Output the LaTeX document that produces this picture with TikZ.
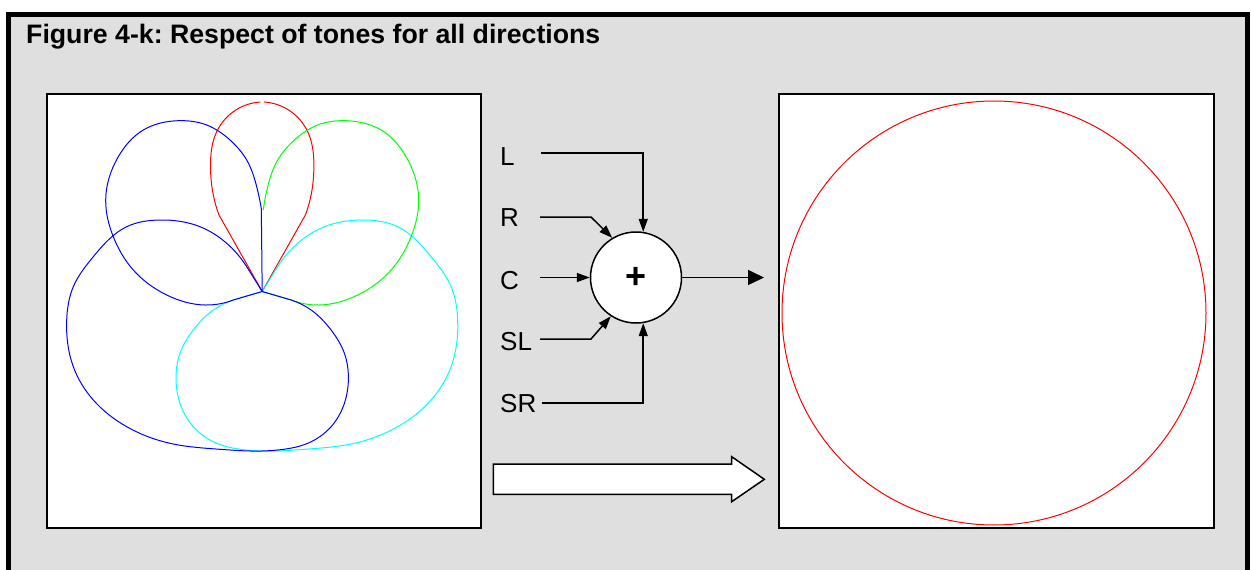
\documentclass[tikz,border=0pt]{standalone}
\usepackage{fontspec}
\setmainfont{Liberation Sans}
\usetikzlibrary{arrows.meta,hobby}
\definecolor{bg}{RGB}{223,223,223}
\definecolor{pblue}{RGB}{0,0,255}
\definecolor{pred}{RGB}{255,0,0}
\definecolor{pgreen}{RGB}{0,255,0}
\definecolor{pcyan}{RGB}{0,255,255}
\frenchspacing
\begin{document}
\begin{tikzpicture}[x=1pt,y=-1pt,
  panel/.style={draw=black, line width=1.5pt, fill=white, rectangle, inner sep=0pt, anchor=north west},
  curve/.style={line width=1pt, line join=round, use Hobby shortcut},
  conn/.style={line width=1.5pt, -{Triangle[length=13pt,width=9pt]}},
  bigconn/.style={line width=1.5pt, -{Triangle[length=16pt,width=15pt]}},
  lab/.style={anchor=base west, inner sep=0pt, font=\fontsize{26}{26}\selectfont},
]
\useasboundingbox (0,0) rectangle (1251,570);
\fill[bg] (8.5,14.5) rectangle (1247.5,570);
\draw[line width=5pt] (8.5,572) -- (8.5,14.5) -- (1247.5,14.5) -- (1247.5,572);

\node[anchor=base west, inner sep=0pt, font=\fontsize{26.7}{26.7}\selectfont\bfseries] (title) at (26,43) {Figure 4-k: Respect of tones for all directions};

% panels
\node[panel, minimum width=434pt, minimum height=434pt] (left) at (46,93) {};
\node[panel, minimum width=435pt, minimum height=434pt] (right) at (778,93) {};

% polar plots
\coordinate (O) at (262.2,291.5);
% C (red)
\draw[curve, pred] (264.2,102) .. (291.1,111.7) .. (307.7,131.7) .. (313.9,166.7) .. (311.1,195) .. (305.4,215) -- (O) -- (219,215) .. (213.3,195) .. (210.5,166.7) .. (216.7,131.7) .. (233.3,111.7) .. (260.4,102);
% SR (cyan)
\draw[curve, pcyan] (O) -- (277.7,266.7) .. (297.7,243.3) .. (324.4,226.7) .. (364.4,220) .. (397.7,226.7) .. (431.1,256.7) .. (451.1,286.7) .. (457.7,320) .. (451.1,366.7) .. (431.1,400) .. (397.7,426.7) .. (354.4,443.3) .. (304.4,449.3) .. (262.2,451) .. (246.7,450) .. (216.7,443.3) .. (193.3,426.7) .. (180,403.3) .. (176,378.3) .. (180,353.3) .. (193.3,330) .. (213.3,310) .. (233.3,300) -- (O);
% R (green)
\draw[curve, pgreen] (263.3,210) .. (267.7,186.7) .. (277.7,160) .. (294.4,140) .. (317.7,125) .. (346.1,120.7) .. (381.1,130) .. (406.1,156.7) .. (418.7,200) .. (411.1,236.7) .. (391.1,270) .. (357.7,295) .. (319.4,305) .. (291.1,300) -- (O);
% SL (blue)
\draw[curve, pblue] (O) -- (246.7,266.7) .. (226.7,243.3) .. (200,226.7) .. (160,220) .. (126.7,226.7) .. (93.3,256.7) .. (73.3,286.7) .. (66.7,320) .. (73.3,366.7) .. (93.3,400) .. (126.7,426.7) .. (170,443.3) .. (220,449.3) .. (262.2,451) .. (277.7,450) .. (307.7,443.3) .. (331.1,426.7) .. (344.4,403.3) .. (348.4,378.3) .. (344.4,353.3) .. (331.1,330) .. (311.1,310) .. (291.1,300) -- (O);
% L (blue)
\draw[curve, pblue] (O) -- (261.3,208.5) .. (256.7,186.7) .. (246.7,160) .. (230,140) .. (206.7,125) .. (178.3,120.7) .. (143.3,130) .. (118.3,156.7) .. (105.7,200) .. (113.3,236.7) .. (133.3,270) .. (166.7,295) .. (205,305) .. (233.3,300) -- (O);

% result
\draw[pred, line width=1pt] (994,313) circle[radius=212pt];

% summing node
\node[circle, draw, line width=1.5pt, fill=white, minimum size=91pt, inner sep=0pt, font=\fontsize{36}{36}\selectfont\bfseries] (sum) at (636,277.5) {+};

\node[lab] (L) at (500,165) {L};
\node[lab] (R) at (500,226) {R};
\node[lab] (C) at (500,289) {C};
\node[lab] (SL) at (500,350) {SL};
\node[lab] (SR) at (500,412) {SR};

\coordinate (Lin) at (541,153);
\coordinate (Rin) at (540,217);
\coordinate (Rk) at (591,217);
\coordinate (Cin) at (540,277.5);
\coordinate (SLin) at (540,339);
\coordinate (SLk) at (591,339);
\coordinate (SRin) at (542,403);
\coordinate (out) at (764,277.5);

\draw[conn] (Lin) -| (sum.81);
\draw[conn] (Rin) -- (Rk) -- (sum.121);
\draw[conn] (Cin) -- (sum.west);
\draw[conn] (SLin) -- (SLk) -- (sum.237);
\draw[conn] (SRin) -| (sum.-81);
\draw[bigconn] (sum.east) -- (out);

% hollow arrow
\draw[line width=1.5pt, fill=white, line join=miter] (493.3,464) -- (731.7,464) -- (731.7,456.7) -- (764.3,479.3) -- (731.7,501.7) -- (731.7,494.3) -- (493.3,494.3) -- cycle;
\end{tikzpicture}
\end{document}
